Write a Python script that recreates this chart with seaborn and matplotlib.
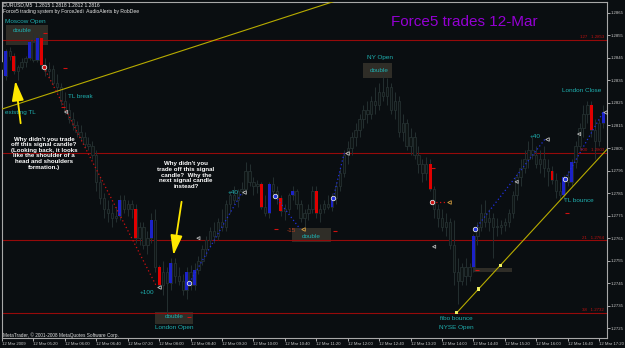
import numpy as np
import pandas as pd
import matplotlib
matplotlib.use('Agg')
import matplotlib.pyplot as plt
import seaborn as sns
from matplotlib.patches import Rectangle

sns.set_theme(style='dark')
plt.rcParams['font.family'] = ['Liberation Sans', 'DejaVu Sans']

# ---- data (prices in pips above 1.2700, M5 bars from 12 Mar 04:40) ----
open_p = [140, 137, 148, 146, 139, 141, 143, 145, 152, 144, 154, 142, 139, 140, 134, 132, 126, 122, 118, 115,
          112, 110, 107, 106, 102, 90, 83, 78, 76, 74, 75, 82, 78, 80, 78, 65, 70, 62, 65, 73,
          52, 44, 50, 45, 54, 48, 46, 42, 50, 44, 51, 55, 60, 64, 68, 66, 72, 70, 80, 84,
          82, 86, 87, 95, 90, 88, 89, 79, 76, 89, 86, 83, 77, 78, 84, 86, 80, 74, 76, 78,
          86, 76, 78, 80, 79, 83, 88, 94, 102, 105, 110, 113, 118, 122, 120, 126, 124, 130, 128, 132,
          122, 126, 112, 116, 106, 110, 102, 98, 94, 98, 87, 78, 74, 70, 72, 62, 50, 46, 52, 48,
          52, 66, 70, 76, 72, 74, 70, 70, 71, 72, 76, 84, 92, 96, 100, 104, 102, 98, 100, 96,
          95, 91, 86, 84, 92, 90, 99, 106, 114, 120, 124, 113, 108, 116]
high_p = [146, 149, 150, 147, 142, 145, 146, 153, 156, 155, 156, 145, 143, 142, 138, 134, 130, 125, 121, 117,
          115, 112, 110, 108, 104, 92, 85, 82, 80, 79, 84, 84, 82, 82, 80, 72, 72, 68, 76, 78,
          53, 55, 52, 56, 56, 52, 49, 52, 53, 54, 57, 62, 66, 70, 72, 74, 78, 82, 86, 88,
          87, 90, 99, 98, 92, 91, 90, 84, 90, 92, 88, 84, 80, 85, 88, 87, 82, 78, 80, 88,
          88, 80, 82, 84, 85, 90, 96, 104, 108, 112, 116, 120, 124, 126, 128, 132, 134, 138, 136, 134,
          130, 128, 120, 118, 114, 112, 106, 100, 101, 100, 88, 80, 78, 76, 74, 73, 56, 54, 56, 54,
          67, 72, 80, 82, 78, 76, 74, 73, 74, 78, 86, 94, 100, 104, 108, 110, 106, 104, 106, 100,
          97, 94, 90, 93, 95, 100, 108, 116, 124, 126, 126, 118, 118, 124]
low_p = [138, 135, 144, 138, 135, 140, 141, 144, 143, 143, 140, 137, 136, 133, 130, 124, 120, 116, 113, 110,
         108, 105, 104, 100, 86, 80, 74, 72, 70, 72, 73, 76, 75, 74, 63, 62, 60, 58, 63, 50,
         43, 40, 32, 42, 45, 44, 40, 38, 42, 42, 49, 53, 57, 61, 63, 64, 68, 68, 76, 80,
         79, 84, 85, 88, 84, 85, 78, 75, 74, 84, 80, 75, 73, 76, 82, 78, 72, 70, 73, 76,
         74, 72, 76, 78, 77, 80, 86, 92, 98, 102, 106, 110, 114, 116, 118, 120, 122, 126, 124, 120,
         118, 110, 108, 104, 102, 100, 94, 90, 91, 86, 74, 70, 68, 66, 60, 44, 36, 44, 44, 46,
         50, 62, 68, 70, 68, 56, 66, 67, 68, 70, 74, 82, 88, 94, 96, 100, 96, 94, 92, 88,
         89, 83, 82, 82, 88, 88, 96, 104, 110, 116, 110, 100, 106, 114]
close_p = [143, 148, 146, 139, 141, 143, 145, 152, 144, 154, 142, 139, 140, 134, 132, 126, 122, 118, 115, 112,
           110, 107, 106, 102, 90, 83, 78, 76, 74, 75, 82, 78, 80, 78, 65, 70, 62, 65, 73, 52,
           44, 50, 45, 54, 48, 46, 42, 50, 44, 51, 55, 60, 64, 68, 66, 72, 70, 80, 84, 82,
           86, 87, 95, 90, 88, 89, 79, 76, 89, 86, 83, 77, 78, 84, 86, 80, 74, 76, 78, 86,
           76, 78, 80, 79, 83, 88, 94, 102, 105, 110, 113, 118, 122, 120, 126, 124, 130, 128, 132, 122,
           126, 112, 116, 106, 110, 102, 98, 94, 98, 87, 78, 74, 70, 72, 62, 50, 46, 52, 48, 52,
           66, 70, 76, 72, 74, 70, 70, 71, 72, 76, 84, 92, 96, 100, 104, 102, 98, 100, 96, 95,
           91, 86, 84, 92, 90, 99, 106, 114, 120, 124, 113, 108, 116, 121]

# signal candles painted by the Force5 indicator
blue_bars = [1, 7, 9, 30, 38, 43, 47, 49, 68, 74, 84, 120, 143, 145, 153]
red_bars = [3, 10, 34, 40, 66, 71, 80, 109, 140, 150]

# fibonacci levels
fib_levels = [1.2853, 1.2803, 1.2764, 1.2732]
fib_names = ['127', '100', '21', '38']

# trades: entry bar / price, exit bar / price (price in pips above 1.2700)
trade_side = ['sell', 'buy', 'buy', 'buy', 'sell', 'buy', 'buy']
entry_bar = [10.6, 47.7, 69.5, 84.3, 109.4, 120.4, 143.3]
entry_pip = [141.0, 45.2, 83.7, 82.8, 80.9, 68.9, 91.2]
exit_bar = [39.4, 61.1, 75.9, 87.1, 113.2, 138.2, 153.0]
exit_pip = [43.4, 85.3, 69.0, 102.7, 80.9, 108.9, 120.9]

# stop marks (short red dashes) and extra close arrows
stop_bar = [11.0, 16.1, 15.6, 47.7, 69.8, 84.8, 109.8, 120.9, 143.9]
stop_pip = [156.0, 140.4, 123.1, 30.0, 69.0, 68.1, 96.1, 50.8, 76.1]
mark_bar = [16.3, 50.0, 110.0, 131.0, 146.9]
mark_pip = [121.0, 65.0, 61.2, 90.0, 111.2]

# trend lines (bar, pips)
tl1_bar = [0.0, 100.0]
tl1_pip = [122.3, 178.8]
tl2_bar = [115.8, 160.0]
tl2_pip = [32.0, 115.8]
tl2_marks = [115.8, 121.3, 126.8]

price_ticks = [1.2725, 1.2735, 1.2745, 1.2755, 1.2765, 1.2775, 1.2785, 1.2795,
               1.2805, 1.2815, 1.2825, 1.2835, 1.2845, 1.2855, 1.2865]
time_bars = [0, 8, 16, 24, 32, 40, 48, 56, 64, 72, 80, 88, 96, 104, 112, 120, 128, 136, 144, 152]
time_labels = ['12 Mar 2009', '12 Mar 05:20', '12 Mar 06:00', '12 Mar 06:40', '12 Mar 07:20',
               '12 Mar 08:00', '12 Mar 08:40', '12 Mar 09:20', '12 Mar 10:00', '12 Mar 10:40',
               '12 Mar 11:20', '12 Mar 12:00', '12 Mar 12:40', '12 Mar 13:20', '12 Mar 14:00',
               '12 Mar 14:40', '12 Mar 15:20', '12 Mar 16:00', '12 Mar 16:40', '12 Mar 17:20']

# ---- build ----
df = pd.DataFrame({'o': open_p, 'h': high_p, 'l': low_p, 'c': close_p})
df = 1.27 + df / 1e4
df['bar'] = np.arange(len(df))

W, H = 625, 348
BG = '#0a0e11'
CANDLE = '#243030'
CYAN = '#1fb0b0'
FIB = '#960a0a'
TL = '#b8ac00'


def P(x, y):
    # pixel position -> figure fraction
    return (x / W, 1 - y / H)


def pr(p):
    return 1.27 + p / 1e4


fig = plt.figure(figsize=(W / 100, H / 100), dpi=100)
fig.patch.set_facecolor(BG)
ax = fig.add_axes([2 / W, 1 - 338 / H, 605 / W, 336 / H])
ax.set_facecolor(BG)

# "double" boxes behind candles
for (x, y, w, h) in [(6, 25, 42, 20), (155, 312, 38, 12), (292, 228, 39, 14), (363, 63, 29, 15), (473, 268, 39, 4)]:
    ax.add_artist(Rectangle(P(x, y + h), w / W, h / H, transform=fig.transFigure,
                            facecolor='#2f2d27', edgecolor='none', zorder=0.5))

# fib levels
for lvl in fib_levels:
    ax.axhline(lvl, color=FIB, lw=0.8, zorder=1)

# candles
ax.vlines(df['bar'], df['l'], df['h'], color=CANDLE, lw=0.7, zorder=2)
for _, r in df.iterrows():
    lo, hi = min(r.o, r.c), max(r.o, r.c)
    ax.add_patch(Rectangle((r.bar - 0.3, lo), 0.6, max(hi - lo, 0.00002),
                           facecolor='#0e1414', edgecolor=CANDLE, lw=0.6, zorder=3))

for idx_list, col in [(blue_bars, '#1c22c8'), (red_bars, '#e00000')]:
    for i in idx_list:
        r = df.iloc[i]
        lo, hi = min(r.o, r.c), max(r.o, r.c)
        ax.add_patch(Rectangle((i - 0.38, lo), 0.76, hi - lo, facecolor=col, edgecolor='none', zorder=4))

# trend lines
sns.lineplot(x=tl1_bar, y=[pr(v) for v in tl1_pip], ax=ax, color=TL, lw=0.8, zorder=5, sort=False)
sns.lineplot(x=tl2_bar, y=[pr(v) for v in tl2_pip], ax=ax, color=TL, lw=0.8, zorder=5, sort=False)
slope = (tl2_pip[1] - tl2_pip[0]) / (tl2_bar[1] - tl2_bar[0])
sns.scatterplot(x=tl2_marks, y=[pr(tl2_pip[0] + slope * (b - tl2_bar[0])) for b in tl2_marks],
                ax=ax, marker='s', s=5, color='#f0f060', edgecolor='none', zorder=6)

# trades
for k, (side, eb, ep, xb, xp) in enumerate(zip(trade_side, entry_bar, entry_pip, exit_bar, exit_pip)):
    col = '#d01010' if side == 'sell' else '#2030e0'
    sns.lineplot(x=[eb, xb], y=[pr(ep), pr(xp)], ax=ax, color=col, lw=0.9,
                 linestyle=(0, (1, 2)), zorder=6, sort=False)
    ax.plot(eb, pr(ep), 'o', ms=3.2, mfc=col, mec='#e0e0e0', mew=0.6, zorder=7)
    ecol = '#d8a040' if k in (2, 4) else '#c0c0c0'
    ax.plot(xb + 0.6, pr(xp), '<', ms=2.6, mfc='none', mec=ecol, mew=0.6, zorder=7)

sns.scatterplot(x=stop_bar, y=[pr(v) for v in stop_pip], ax=ax, marker='_', s=10, color='#d01010',
                linewidth=0.8, zorder=6)
sns.scatterplot(x=mark_bar, y=[pr(v) for v in mark_pip], ax=ax, marker='<', s=5, color='none',
                edgecolor='#b8b8b8', linewidth=0.6, zorder=6)

ax.set_xlim(0.08, 154.0)
ax.set_ylim(1.27207, 1.28698)

# axes styling
ax.yaxis.tick_right()
ax.set_yticks(price_ticks)
ax.set_yticklabels(['%.4f' % t for t in price_ticks])
ax.set_xticks(time_bars)
ax.set_xticklabels(time_labels)
for lbl in ax.get_xticklabels():
    lbl.set_ha('left')
ax.tick_params(axis='both', colors='#c8c8c8', labelsize=3.1, length=2, width=0.6, pad=0.8,
               bottom=True, right=True)
for s in ['top', 'right', 'left']:
    ax.spines[s].set_color('#a8a8a8')
    ax.spines[s].set_linewidth(0.8)
ax.spines['bottom'].set_color('#a8a8a8')
ax.spines['bottom'].set_linestyle((0, (1, 1)))
ax.spines['bottom'].set_linewidth(0.8)
ax.grid(False)
ax.set_xlabel('')
ax.set_ylabel('')


def T(x, y, s, color=CYAN, size=4.6, ha='left', weight='normal', **kw):
    ax.text(*P(x, y), s, transform=fig.transFigure, color=color, fontsize=size, ha=ha, va='center',
            fontweight=weight, zorder=8, **kw)


# header
T(3, 5, 'EURUSD,M5  1.2815 1.2818 1.2812 1.2816', color='#e8e8e8', size=3.6)
T(3, 11, 'Force5 trading system by ForceJedi  AudioAlerts by RobDee', color='#e8e8e8', size=3.6)
T(464, 22, 'Force5 trades 12-Mar', color='#9400d3', size=11, ha='center')

# session / trade notes
T(5, 21, 'Moscow Open')
T(13, 30, 'double')
T(5, 112, 'existing TL')
T(68, 96, 'TL break')
T(140, 292, '+100')
T(165, 317, 'double')
T(174, 328, 'London Open', ha='center')
T(228, 192, '+40')
T(287, 230, '-15', color='#b84020')
T(302, 236, 'double')
T(380, 57, 'NY Open', ha='center')
T(370, 70, 'double')
T(582, 91, 'London Close', ha='center')
T(530, 136, '+40')
T(564, 201, 'TL bounce')
T(456, 319, 'fibo bounce', ha='center')
T(456, 328, 'NYSE Open', ha='center')
T(3, 335, 'MetaTrader, \u00a9 2001-2008 MetaQuotes Software Corp.', color='#e0e0e0', size=3.4)

# fib labels
for lvl, name in zip(fib_levels, fib_names):
    y = 12.7 + (1.2865 - lvl) * 22540
    T(604, y - 2.5, name + '   %.4f' % lvl, color='#c01010', size=3.2, ha='right')

# commentary
T(44, 153, "Why didn't you trade\noff this signal candle?\n(Looking back, it looks\nlike the shoulder of a\nhead and shoulders\nformation.)",
  color='white', size=4.4, ha='center', weight='bold', linespacing=1.15)
T(186, 175, "Why didn't you\ntrade off this signal\ncandle?  Why the\nnext signal candle\ninstead?",
  color='white', size=4.4, ha='center', weight='bold', linespacing=1.15)

# yellow arrows
for (x0, y0, x1, y1) in [(21, 126, 15, 78), (182, 199, 173, 258)]:
    ax.annotate('', xy=P(x1, y1), xytext=P(x0, y0), xycoords='figure fraction', textcoords='figure fraction',
                arrowprops=dict(arrowstyle='-|>,head_length=1.0,head_width=0.3', color='#ffe800', lw=1.3),
                zorder=9)

fig.savefig('out.png', dpi=100, facecolor=BG)
